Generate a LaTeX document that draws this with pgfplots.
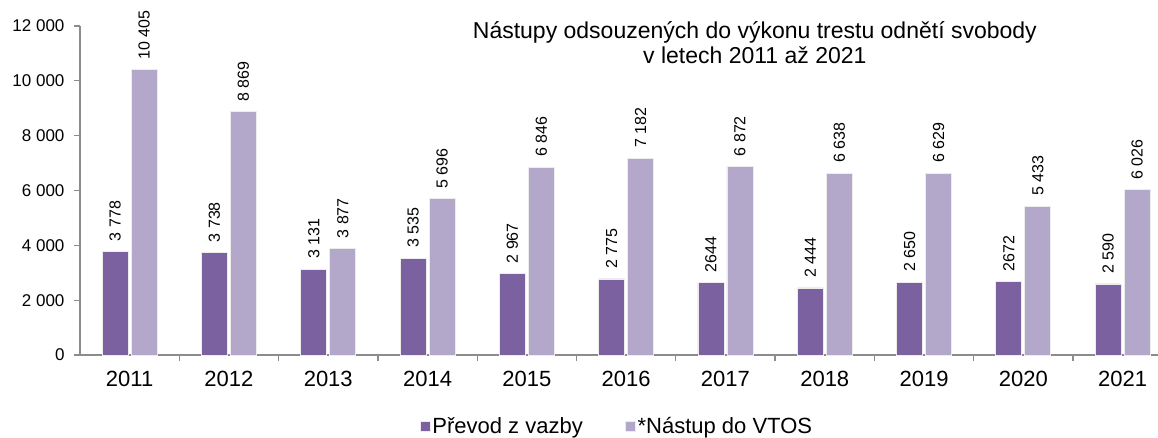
\documentclass[border=0pt]{standalone}
\usepackage{fontspec}
\setmainfont{Liberation Sans}
\usepackage{pgfplots}
\pgfplotsset{compat=1.18}
\definecolor{darkp}{RGB}{123,97,159}
\definecolor{lightp}{RGB}{179,168,201}
\definecolor{axgray}{RGB}{140,140,140}
\begin{document}
\begin{tikzpicture}
\begin{axis}[
  at={(0pt,0pt)}, anchor=south west,
  scale only axis,
  width=1078pt, height=329pt,
  xmin=-0.5, xmax=10.356,
  ymin=0, ymax=12000,
  axis x line=bottom, axis y line=left,
  axis line style={axgray, line width=1.3pt, -},
  ybar=3pt, bar width=26pt,
  xtick={0,...,10},
  xticklabels={2011,2012,2013,2014,2015,2016,2017,2018,2019,2020,2021},
  minor xtick={0.5,1.5,...,9.5},
  major x tick style={draw=none},
  minor x tick style={axgray, line width=1.3pt},
  minor tick length=6pt,
  x tick label style={font=\fontsize{22}{26}\selectfont, yshift=-7pt},
  scaled y ticks=false,
  ytick={0,2000,...,12000},
  yticklabels={0,2 000,4 000,6 000,8 000,10 000,12 000},
  y tick label style={font=\fontsize{17}{20}\selectfont, xshift=-6pt},
  major y tick style={axgray, line width=1.3pt},
  major tick length=6pt,
  tick align=outside,
  /pgf/number format/assume math mode=true,
  point meta=explicit symbolic,
  nodes near coords,
  every node near coord/.append style={rotate=90, anchor=west, font=\fontsize{16}{19}\selectfont, inner sep=0pt, xshift=10pt},
  clip=false,
  legend columns=2,
  legend style={draw=none, at={(0.498,-0.217)}, anchor=center, font=\fontsize{22}{26}\selectfont,
    /tikz/every even column/.append style={column sep=40pt}},
  legend image code/.code={\fill[#1] (0pt,-5pt) rectangle (10pt,5pt);},
]
\addplot[fill=darkp, draw=gray!15, line width=0.8pt] coordinates {
(0,3778)[3 778] (1,3738)[3 738] (2,3131)[3 131] (3,3535)[3 535] (4,2967)[2 967]
(5,2775)[2 775] (6,2644)[2644] (7,2444)[2 444] (8,2650)[2 650] (9,2672)[2672] (10,2590)[2 590]};
\addplot[fill=lightp, draw=gray!15, line width=0.8pt] coordinates {
(0,10405)[10 405] (1,8869)[8 869] (2,3877)[3 877] (3,5696)[5 696] (4,6846)[6 846]
(5,7182)[7 182] (6,6872)[6 872] (7,6638)[6 638] (8,6629)[6 629] (9,5433)[5 433] (10,6026)[6 026]};
\legend{Převod z vazby,*Nástup do VTOS}
\node[anchor=base, font=\fontsize{23}{26}\selectfont, inner sep=0pt] at (axis description cs:0.626,0.9635) {Nástupy odsouzených do výkonu trestu odnětí svobody};
\node[anchor=base, font=\fontsize{23}{26}\selectfont, inner sep=0pt] at (axis description cs:0.626,0.8875) {v letech 2011 až 2021};
\end{axis}
\pgfresetboundingbox
\path[use as bounding box] (-80pt,-82pt) rectangle (1078pt,355pt);
\end{tikzpicture}
\end{document}
